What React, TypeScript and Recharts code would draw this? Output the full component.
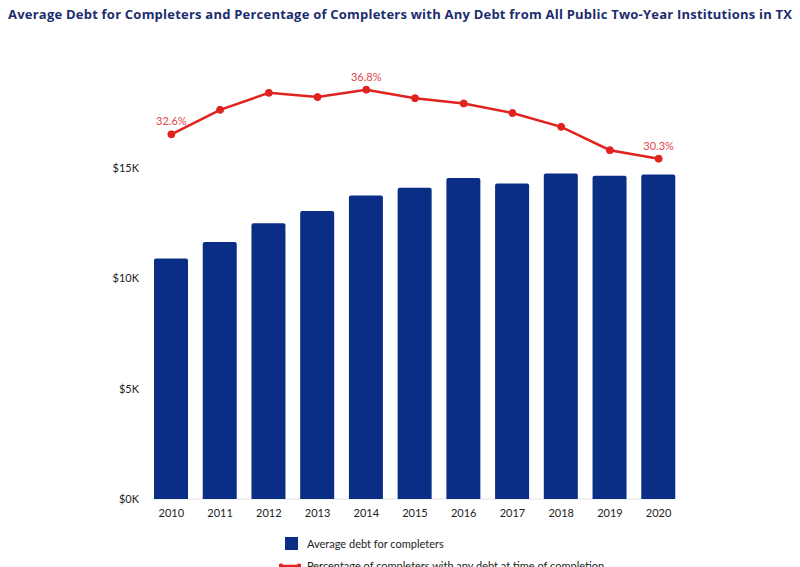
import React from "react";
import {
  ComposedChart,
  Bar,
  Line,
  XAxis,
  YAxis,
  CartesianGrid,
  LabelList,
} from "recharts";

const years = ["2010", "2011", "2012", "2013", "2014", "2015", "2016", "2017", "2018", "2019", "2020"];
const avgDebt = [10900, 11650, 12500, 13050, 13750, 14100, 14550, 14300, 14750, 14650, 14700];
const pctWithDebt = [32.6, 34.9, 36.5, 36.1, 36.8, 36.0, 35.5, 34.6, 33.3, 31.1, 30.3];
const pctLabels = ["32.6%", "", "", "", "36.8%", "", "", "", "", "", "30.3%"];
const debtTicks = [0, 5000, 10000, 15000];

const NAVY = "#0a2e86";
const RED = "#e0231f";
const FONT = "Lato, 'Noto Sans', sans-serif";

const data = years.map((year, i) => ({
  year,
  debt: avgDebt[i],
  pct: pctWithDebt[i],
  pctLabel: pctLabels[i],
}));

function GridLine(props: any) {
  const { x1, x2, y1, y2 } = props;
  // skip the top border line, the reference only has lines at the ticks
  if (y1 < 80) return <g />;
  return <line x1={x1 + 7} x2={x2 - 8} y1={y1} y2={y2} stroke="#e3e3e3" strokeWidth={1} />;
}

export default function App() {
  return (
    <div
      style={{
        position: "fixed",
        left: 0,
        top: 0,
        width: 800,
        height: 567,
        background: "#fff",
        overflow: "hidden",
        fontFamily: FONT,
      }}
    >
      <div
        style={{
          position: "absolute",
          left: 8,
          top: 5,
          fontSize: 13,
          fontWeight: 700,
          letterSpacing: 0.22,
          fontFamily: "'Open Sans', sans-serif",
          color: "#1c2d6e",
          whiteSpace: "nowrap",
        }}
      >
        Average Debt for Completers and Percentage of Completers with Any Debt from All Public Two-Year Institutions in TX
      </div>

      <ComposedChart
        width={800}
        height={567}
        data={data}
        margin={{ top: 57.6, right: 117, left: 100, bottom: 38 }}
        style={{ position: "absolute", left: 0, top: 0 }}
      >
        <CartesianGrid vertical={false} horizontal={(p: any) => <GridLine key={p.key} {...p} />} />
        <XAxis
          dataKey="year"
          axisLine={false}
          tickLine={false}
          height={30}
          tick={{ fill: "#222", fontSize: 11, fontFamily: FONT }}
          dy={2}
        />
        <YAxis
          yAxisId="debt"
          width={47}
          domain={[0, 20000]}
          ticks={debtTicks}
          axisLine={false}
          tickLine={false}
          tickFormatter={(v: number) => `$${v / 1000}K`}
          tick={{ fill: "#222", fontSize: 11, fontFamily: FONT }}
        />
        <YAxis yAxisId="pct" orientation="right" hide domain={[-1.74, 39.82]} />
        <Bar
          yAxisId="debt"
          dataKey="debt"
          fill={NAVY}
          barSize={34}
          radius={[2, 2, 0, 0]}
          isAnimationActive={false}
        />
        <Line
          yAxisId="pct"
          dataKey="pct"
          stroke={RED}
          strokeWidth={2.5}
          dot={{ r: 3.5, fill: RED, stroke: RED, strokeWidth: 1 }}
          isAnimationActive={false}
        >
          <LabelList
            dataKey="pctLabel"
            position="top"
            offset={9}
            fill="#e0474c"
            fontSize={11}
            fontFamily={FONT}
          />
        </Line>
      </ComposedChart>

      <div style={{ position: "absolute", left: 285, top: 537, display: "flex", alignItems: "center" }}>
        <div style={{ width: 13, height: 13, background: NAVY }} />
        <span style={{ marginLeft: 9, fontSize: 11, color: "#222" }}>Average debt for completers</span>
      </div>
      <div style={{ position: "absolute", left: 279, top: 559, display: "flex", alignItems: "center" }}>
        <svg width={22} height={12}>
          <line x1={1} x2={21} y1={6} y2={6} stroke={RED} strokeWidth={2.5} />
          <circle cx={2} cy={6} r={2.5} fill={RED} />
          <circle cx={20} cy={6} r={2.5} fill={RED} />
        </svg>
        <span style={{ marginLeft: 6, fontSize: 11, color: "#222" }}>
          Percentage of completers with any debt at time of completion
        </span>
      </div>
    </div>
  );
}
